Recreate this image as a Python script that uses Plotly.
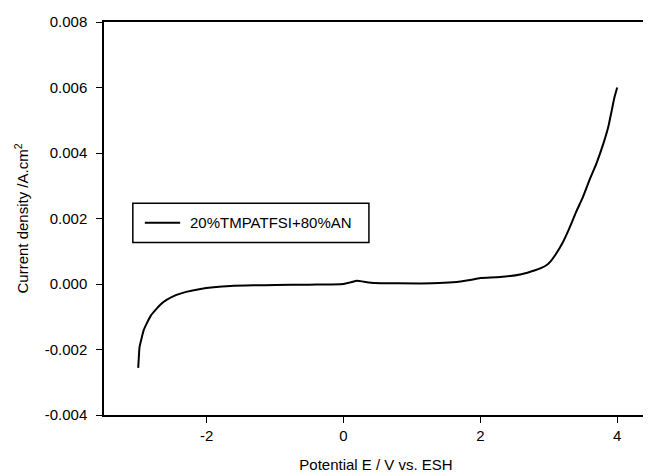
import plotly.graph_objects as go

potential = [-3.0, -2.99, -2.98, -2.95, -2.92, -2.87, -2.82, -2.75, -2.67, -2.58, -2.45, -2.3, -2.09, -1.9,
             -1.65, -1.3, -1.0, -0.5, 0.0, 0.1, 0.2, 0.3, 0.45, 0.8, 1.3, 1.6, 1.85, 2.0, 2.29, 2.6, 2.8,
             2.9, 2.97, 3.03, 3.1, 3.2, 3.3, 3.4, 3.5, 3.6, 3.7, 3.8, 3.87, 3.92, 3.96, 4.0]
current = [-0.00256, -0.0022, -0.00192, -0.00165, -0.00141, -0.00118, -0.00098, -0.0008, -0.00062, -0.00048,
           -0.00034, -0.00024, -0.00015, -0.0001, -0.00006, -0.00004, -0.00003, -0.00002, 0.0, 0.00005,
           0.0001, 0.00007, 0.00003, 0.00002, 0.00002, 0.00005, 0.00012, 0.00018, 0.00021, 0.0003, 0.00042,
           0.0005, 0.00058, 0.0007, 0.0009, 0.00125, 0.0017, 0.0022, 0.00266, 0.0032, 0.0037, 0.0043,
           0.0048, 0.0053, 0.0057, 0.006]
series_name = "20%TMPATFSI+80%AN"

x_ticks = [-2, 0, 2, 4]
x_labels = ["-2", "0", "2", "4"]
y_ticks = [-0.004, -0.002, 0.0, 0.002, 0.004, 0.006, 0.008]
y_labels = ["-0.004", "-0.002", "0.000", "0.002", "0.004", "0.006", "0.008"]

fig = go.Figure()
fig.add_trace(go.Scatter(x=potential, y=current, mode="lines", name=series_name, showlegend=False,
                         line=dict(color="black", width=2, shape="spline", smoothing=0.6)))

font = "Liberation Sans, Arial, sans-serif"

# Legend box drawn manually (paper coordinates relative to the plot area)
fig.add_shape(type="rect", xref="paper", yref="paper", x0=0.053, x1=0.487, y0=0.439, y1=0.539,
              line=dict(color="black", width=1.5), fillcolor="white", layer="above")
fig.add_shape(type="line", xref="paper", yref="paper", x0=0.075, x1=0.140, y0=0.489, y1=0.489,
              line=dict(color="black", width=2), layer="above")
fig.add_annotation(text=series_name, xref="paper", yref="paper", x=0.154, y=0.489,
                   xanchor="left", yanchor="middle", showarrow=False,
                   font=dict(size=15, family=font, color="black"))

# page body has an 8px default margin, so the figure is sized/offset to compensate
fig.update_layout(
    width=643, height=468,
    margin=dict(l=96, r=3, t=14, b=61),
    paper_bgcolor="white", plot_bgcolor="white",
    font=dict(family=font, color="black", size=15),
    showlegend=False,
)
fig.update_xaxes(range=[-3.5, 4.45], tickvals=x_ticks, ticktext=x_labels,
                 showline=True, linecolor="black", linewidth=1.5, mirror=True,
                 ticks="outside", ticklen=6, tickcolor="black", showgrid=False, zeroline=False,
                 tickfont=dict(size=15), automargin=False,
                 title=dict(text="Potential E / V vs. ESH", font=dict(size=15), standoff=17))
fig.update_yaxes(range=[-0.004, 0.008], tickvals=y_ticks, ticktext=y_labels,
                 showline=True, linecolor="black", linewidth=1.5,
                 ticks="outside", ticklen=6, tickcolor="black", showgrid=False, zeroline=False,
                 tickfont=dict(size=15), ticklabelstandoff=6, automargin=False,
                 title=dict(text="Current density /A.cm<sup>2</sup>", font=dict(size=15), standoff=12))

fig.write_html("out.html")
